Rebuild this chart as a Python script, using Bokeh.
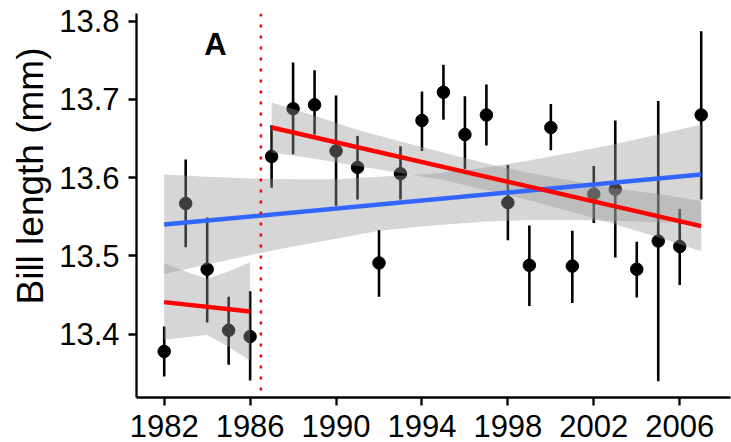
from bokeh.plotting import figure
from bokeh.models import Range1d, FixedTicker, Span, Label, Title
from bokeh.embed import file_html
from bokeh.resources import INLINE

# ---- data ----
years = [1982, 1983, 1984, 1985, 1986, 1987, 1988, 1989, 1990, 1991, 1992, 1993, 1994,
         1995, 1996, 1997, 1998, 1999, 2000, 2001, 2002, 2003, 2004, 2005, 2006, 2007]
bill_mean = [13.378, 13.567, 13.483, 13.405, 13.397, 13.627, 13.688, 13.693, 13.634, 13.613,
             13.491, 13.605, 13.673, 13.709, 13.655, 13.680, 13.568, 13.488, 13.664, 13.487,
             13.579, 13.585, 13.483, 13.519, 13.512, 13.680]
bill_low = [13.346, 13.511, 13.415, 13.361, 13.341, 13.587, 13.630, 13.655, 13.564, 13.572,
            13.448, 13.572, 13.634, 13.674, 13.611, 13.641, 13.520, 13.436, 13.635, 13.440,
            13.542, 13.498, 13.447, 13.340, 13.463, 13.572]
bill_high = [13.410, 13.623, 13.549, 13.448, 13.455, 13.667, 13.747, 13.737, 13.705, 13.653,
             13.533, 13.640, 13.710, 13.744, 13.704, 13.719, 13.616, 13.539, 13.694, 13.532,
             13.615, 13.673, 13.518, 13.698, 13.560, 13.787]

# overall linear fit (blue) and its confidence band
fit_all_x = [1982, 2007]
fit_all_y = [13.540, 13.604]
band_all_x = [1982, 1984, 1986, 1988, 1990, 1992, 1994.5, 1997, 1999, 2001, 2003, 2005, 2007]
band_all_lo = [13.477, 13.489, 13.501, 13.512, 13.522, 13.532, 13.539, 13.544, 13.546, 13.546,
               13.545, 13.543, 13.541]
band_all_hi = [13.604, 13.601, 13.599, 13.598, 13.598, 13.601, 13.605, 13.613, 13.622, 13.632,
               13.643, 13.655, 13.668]

# early period fit (red)
fit_early_x = [1982, 1986]
fit_early_y = [13.441, 13.429]
band_early_x = [1982, 1983, 1984, 1985, 1986]
band_early_lo = [13.393, 13.396, 13.399, 13.384, 13.366]
band_early_hi = [13.491, 13.480, 13.471, 13.480, 13.492]

# late period fit (red)
fit_late_x = [1987, 2007]
fit_late_y = [13.664, 13.538]
band_late_x = [1987, 1989, 1991, 1993, 1995, 1997, 1999, 2001, 2003, 2005, 2007]
band_late_lo = [13.632, 13.624, 13.615, 13.606, 13.597, 13.584, 13.571, 13.556, 13.540, 13.524, 13.506]
band_late_hi = [13.696, 13.679, 13.661, 13.646, 13.632, 13.618, 13.606, 13.596, 13.586, 13.579, 13.570]

break_year = 1986.5
x_ticks = [1982, 1986, 1990, 1994, 1998, 2002, 2006]
y_ticks = [13.4, 13.5, 13.6, 13.7, 13.8]
panel_label = "A"
y_title = "Bill length (mm)"

FONT = "Liberation Sans"

p = figure(width=731, height=442, output_backend="svg", toolbar_location=None,
           x_range=Range1d(1980.71, 2008.364), y_range=Range1d(13.3192, 13.8096),
           min_border_left=136, min_border_right=1, min_border_top=13, min_border_bottom=45)
p.xgrid.visible = False
p.ygrid.visible = False
p.outline_line_color = None
p.background_fill_color = "white"
p.border_fill_color = "white"

for ax in (p.xaxis[0], p.yaxis[0]):
    ax.axis_line_width = 2.3
    ax.axis_line_color = "black"
    ax.major_tick_line_width = 2.3
    ax.major_tick_line_color = "black"
    ax.major_tick_in = 0
    ax.major_tick_out = 8
    ax.minor_tick_line_color = None
    ax.major_label_text_font = FONT
    ax.major_label_text_font_size = "31px"
    ax.major_label_text_color = "black"

p.xaxis.ticker = FixedTicker(ticks=x_ticks)
p.yaxis.ticker = FixedTicker(ticks=y_ticks)
p.xaxis.major_label_standoff = 9
p.yaxis.major_label_standoff = 9

# y-axis title as a side title so it can sit off-centre like the reference
p.add_layout(Title(text=y_title, align="left", offset=93, standoff=12,
                   text_font=FONT, text_font_size="37px", text_font_style="normal",
                   text_color="black"), "left")

# error bars and points (drawn under the bands)
p.segment(x0=years, y0=bill_low, x1=years, y1=bill_high, line_color="black", line_width=2.6)
p.scatter(years, bill_mean, size=12.5, fill_color="black", line_color="black")

# confidence bands
for bx, lo, hi in ((band_all_x, band_all_lo, band_all_hi),
                   (band_early_x, band_early_lo, band_early_hi),
                   (band_late_x, band_late_lo, band_late_hi)):
    p.varea(x=bx, y1=lo, y2=hi, fill_color="#999999", fill_alpha=0.4)

# fitted lines
p.line(fit_all_x, fit_all_y, line_color="#3366FF", line_width=4.5)
p.line(fit_early_x, fit_early_y, line_color="#FF0000", line_width=4.5)
p.line(fit_late_x, fit_late_y, line_color="#FF0000", line_width=4.5)

p.add_layout(Span(location=break_year, dimension="height", line_color="#FF0000",
                  line_dash="3 8", line_width=2.5))

p.add_layout(Label(x=1984.39, y=13.7696, text=panel_label, text_align="center",
                   text_baseline="alphabetic", text_font=FONT, text_font_size="31px",
                   text_font_style="bold", text_color="black"))

open("out.html", "w").write(file_html(p, INLINE))
